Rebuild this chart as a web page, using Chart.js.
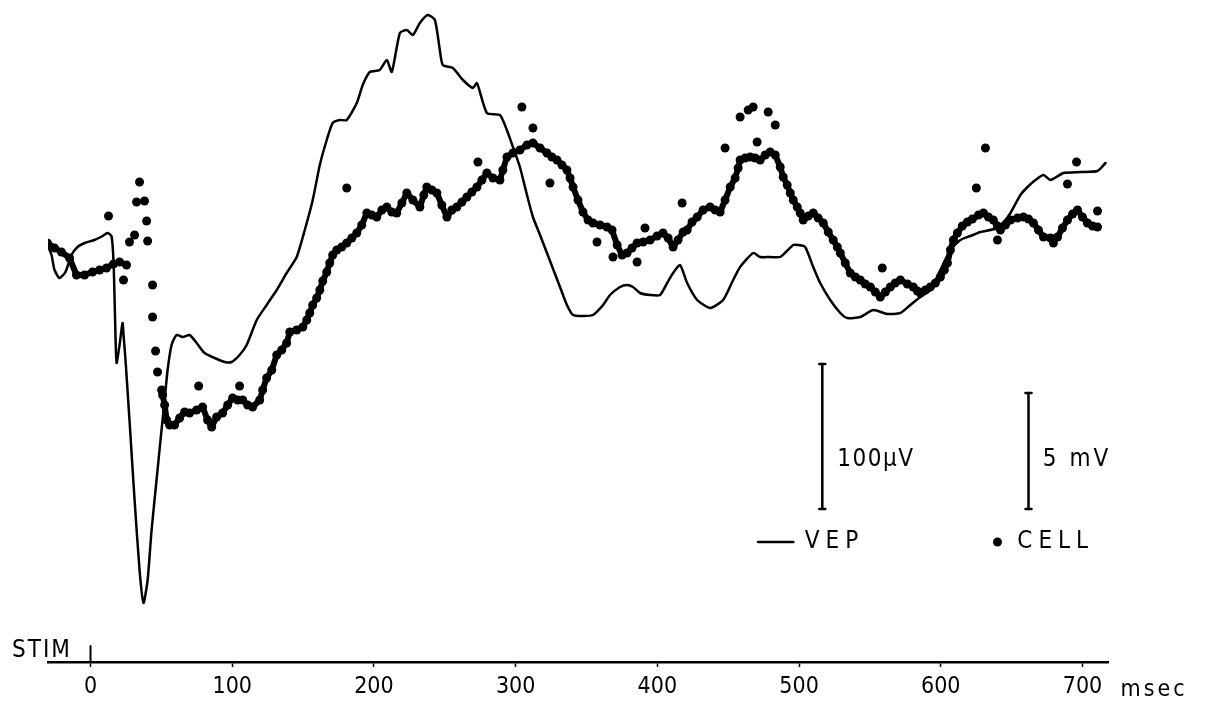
<!DOCTYPE html>
<html>
<head>
<meta charset="utf-8">
<script src="https://cdn.jsdelivr.net/npm/chart.js@4"></script>
<style>
  html, body { margin: 0; padding: 0; background: #fff; }
  #wrap { width: 1229px; height: 708px; }
</style>
</head>
<body>
<div id="wrap"><canvas id="vepChart" width="1229" height="708"></canvas></div>
<script>
// time in msec after the stimulus, amplitude in plot units (height above the time axis)
const vepTime = [-30.4, -27.5, -25.4, -21.9, -17.7, -13.4, -9.2, -4.2, 2.8, 8.5, 12.0, 14.8, 16.2, 17.0, 17.7, 18.4,
  20.5, 22.6, 23.3, 24.7, 27.5, 31.1, 34.6, 37.4, 40.3, 43.1, 46.6, 49.4, 52.3, 54.4, 57.2, 60.7, 65.0, 69.9, 74.9,
  80.5, 87.6, 94.7, 99.6, 105.2, 110.2, 117.3, 124.3, 131.4, 138.4, 145.5, 151.2, 156.8, 161.8, 166.7, 170.9, 175.9,
  180.8, 187.9, 192.1, 197.1, 204.1, 209.1, 212.6, 218.3, 223.2, 227.5, 232.4, 238.0, 243.0, 246.5, 248.6, 255.7,
  262.8, 269.8, 272.7, 279.7, 288.9, 293.8, 298.1, 303.0, 308.0, 312.2, 317.2, 322.1, 331.3, 336.2, 340.5, 347.5,
  354.6, 361.7, 366.6, 373.7, 378.6, 382.8, 387.8, 394.9, 401.9, 406.9, 411.1, 416.0, 421.0, 428.1, 437.2, 446.4,
  453.5, 458.4, 467.6, 472.6, 479.6, 486.7, 495.9, 499.4, 504.3, 510.0, 514.9, 522.0, 529.1, 534.0, 543.2, 552.4,
  562.3, 571.4, 578.5, 585.6, 592.6, 599.7, 606.8, 613.8, 620.9, 628.0, 640.0, 645.6, 649.2, 656.2, 661.2, 666.8,
  672.5, 677.4, 686.6, 698.6, 710.6, 716.2];
const vepAmp = [417, 407, 392, 384, 390, 407, 415, 419, 422, 426, 429, 426, 402, 362, 322, 299,
  317, 339, 327, 302, 242, 162, 92, 59, 82, 132, 182, 222, 262, 292, 317, 327, 325, 327, 319,
  309, 304, 300, 300, 307, 317, 342, 357, 372, 389, 405, 432, 462, 497, 522, 539, 542,
  542, 559, 577, 590, 592, 602, 590, 629, 632, 627, 639, 647, 642, 612, 597, 594,
  582, 574, 579, 549, 547, 532, 515, 495, 467, 445, 427, 409, 375, 357, 347, 346,
  347, 357, 367, 375, 377, 375, 369, 367, 367, 379, 389, 397, 379, 362, 354, 362,
  382, 395, 409, 405, 405, 405, 417, 417, 415, 395, 379, 362, 349, 344, 345, 352,
  348, 349, 357, 365, 372, 392, 412, 422, 426, 430, 434, 442, 449, 467, 475, 482,
  487, 482, 489, 490, 491, 499];

// intracellular record, null marks a break in the trace
const cellTime = [-30.4, -25.4, -20.5, -14.8, -9.9, -4.2, 1.4, 6.4, 11.3, 16.2, 20.5, 25.4, 30,
  50.9, 52.3, 53.7, 55.8, 59.3, 62.9, 66.4, 69.9, 74.9, 79.1, 82.6, 85.5, 89.0, 93.2, 96.8, 100.3, 103.8, 107.4,
  110.9, 114.4, 119.4, 121.5, 124.3, 127.9, 131.4, 134.9, 138.4, 140.6, 145.5, 149.8, 152.6, 154.7, 156.8, 159.6,
  161.8, 163.9, 166.7, 168.8, 170.9, 173.8, 177.3, 180.8, 184.4, 187.9, 191.4, 195.0, 198.5, 202.0, 205.6, 209.1,
  212.6, 216.1, 219.7, 223.2, 227.5, 232.4, 235.2, 237.3, 240.9, 244.4, 247.9, 251.5, 255.0, 258.5, 262.1, 265.6,
  269.1, 272.7, 276.2, 279.7, 284.0, 288.9, 291.0, 293.9, 298.1, 303.0, 308.0, 312.2, 317.2, 322.1, 325.6, 329.2,
  332.7, 336.2, 338.4, 340.5, 344.0, 347.5, 351.1, 354.6, 359.5, 364.5, 368.0, 371.6, 375.1, 378.6, 382.1, 385.7,
  389.9, 394.9, 399.8, 404.0, 407.6, 411.1, 414.6, 418.2, 421.0, 424.5, 428.1, 432.3, 437.2, 440.8, 444.3, 447.8,
  451.4, 454.9, 457.0, 458.4, 462.0, 465.5, 469.0, 472.6, 476.1, 479.6, 483.2, 486.7, 488.8, 491.6, 493.8, 495.9,
  498.7, 500.8, 502.9, 506.5, 510.0, 513.5, 517.1, 520.6, 524.1, 527.0, 529.1, 532.6, 536.1, 539.7, 543.2, 546.7,
  550.3, 553.8, 557.3, 560.9, 564.4, 567.9, 571.5, 576.4, 580.6, 583.5, 585.6, 589.1, 592.6, 596.2, 599.7, 602.5,
  604.7, 606.8, 608.9, 611.7, 615.2, 618.8, 622.3, 626.6, 630.1, 633.6, 637.1, 640.0, 642.1, 645.6, 649.2, 654.1,
  658.3, 661.9, 665.4, 668.9, 672.5, 677.4, 682.4, 685.9, 689.4, 693.0, 696.5, 700.0, 703.5, 707.1, 710.6];
const cellAmp = [419, 414, 410, 404, 387, 387, 390, 392, 394, 398, 400, 397, null,
  267, 257, 242, 237, 237, 244, 250, 249, 252, 255, 242, 235, 245, 249, 257, 264, 262, 262,
  257, 255, 262, 272, 284, 292, 307, 312, 319, 330, 332, 335, 342, 349, 357, 364,
  372, 381, 390, 399, 407, 412, 415, 419, 424, 429, 437, 449, 447, 445, 452, 455,
  450, 449, 459, 469, 462, 455, 467, 475, 472, 469, 457, 445, 452, 455, 460, 465,
  470, 475, 482, 489, 484, 482, 492, 505, 509, 512, 517, 519, 514, 509, 505, 502,
  497, 492, 484, 475, 462, 450, 442, 439, 437, 435, 432, 417, 407, 409, 414, 419,
  420, 422, 426, 429, 424, 415, 422, 430, 432, 440, 445, 452, 455, 452, 450, 462,
  475, 484, 494, 502, 504, 505, 504, 502, 507, 510, 507, 495, 485, 477, 469, 462,
  455, 449, 442, 446, 449, 444, 439, 430, 422, 415, 409, 399, 389, 385, 382, 378,
  375, 370, 365, 370, 375, 379, 382, 378, 375, 371, 369, 372, 375, 379, 385, 392,
  399, 412, 422, 429, 436, 440, 443, 447, 449, 445, 442, 436, 432, 437, 442, 444,
  445, 443, 439, 432, 425, 424, 425, 434, 442, 448, 452, 445, 439, 436, 435];

// single scattered cell samples away from the main trace
const cellSpotTime = [12.7, 34.6, 32.5, 38.1, 39.6, 27.5, 31.1, 40.3, 23.3, 43.8, 43.8, 45.9, 47.3, 50.2, 76.3,
  105.2, 180.8, 273.4, 304.4, 312.2, 324.2, 357.4, 368.7, 385.7, 391.3, 417.5, 447.8, 458.4, 464.1, 467.6, 478.2,
  483.2, 470.4, 558.7, 631.5, 625.1, 695.8, 689.4, 710.6, 640.0, 679.5];
const cellSpotAmp = [446, 480, 460, 461, 441, 420, 427, 421, 382, 377, 345, 311, 290, 272, 276,
  276, 474, 500, 555, 534, 479, 420, 405, 400, 434, 459, 514, 545, 552, 555, 550,
  537, 520, 394, 514, 474, 500, 478, 451, 422, 419];

const tickValues = [0, 100, 200, 300, 400, 500, 600, 700];

const FONT = '"DejaVu Sans Condensed", "DejaVu Sans", sans-serif';

const toPoints = (xs, ys) => xs.map((t, i) => ({ x: t, y: ys[i] }));

// calibration bars, labels, STIM marker
const extras = {
  id: 'extras',
  afterDraw(chart) {
    const { ctx, scales: { x, y } } = chart;
    ctx.save();
    ctx.strokeStyle = '#000';
    ctx.fillStyle = '#000';
    ctx.lineCap = 'round';

    const bar = (t, lo, hi) => {
      const px = x.getPixelForValue(t);
      const top = y.getPixelForValue(hi), bot = y.getPixelForValue(lo);
      ctx.lineWidth = 2.5;
      ctx.beginPath();
      ctx.moveTo(px, top); ctx.lineTo(px, bot);
      ctx.moveTo(px - 3, top); ctx.lineTo(px + 3, top);
      ctx.moveTo(px - 3, bot); ctx.lineTo(px + 3, bot);
      ctx.stroke();
    };
    bar(516.4, 153, 298);
    bar(661.9, 153, 269);

    ctx.font = '24px ' + FONT;
    ctx.textBaseline = 'middle';
    ctx.letterSpacing = '1.5px';
    ctx.fillText('100\u00b5V', x.getPixelForValue(527), y.getPixelForValue(202));
    ctx.letterSpacing = '3px';
    ctx.fillText('5 mV', x.getPixelForValue(672), y.getPixelForValue(202));

    // legend
    ctx.letterSpacing = '6px';
    ctx.lineWidth = 2.5;
    const ly = y.getPixelForValue(120);
    ctx.beginPath();
    ctx.moveTo(x.getPixelForValue(471), ly);
    ctx.lineTo(x.getPixelForValue(496), ly);
    ctx.stroke();
    ctx.fillText('VEP', x.getPixelForValue(504), ly);
    ctx.beginPath();
    ctx.arc(x.getPixelForValue(640), ly, 4.5, 0, Math.PI * 2);
    ctx.fill();
    ctx.fillText('CELL', x.getPixelForValue(654), ly);

    // stimulus marker
    const sx = x.getPixelForValue(0);
    const base = y.getPixelForValue(0);
    ctx.lineWidth = 2;
    ctx.beginPath();
    ctx.moveTo(sx, base); ctx.lineTo(sx, base - 16);
    ctx.stroke();
    ctx.letterSpacing = '2px';
    ctx.textBaseline = 'alphabetic';
    ctx.fillText('STIM', 12, base - 5);

    // unit label after the last tick
    ctx.font = '23px ' + FONT;
    ctx.letterSpacing = '3px';
    ctx.textBaseline = 'middle';
    ctx.fillText('msec', x.getPixelForValue(700) + 38, base + 28);
    ctx.restore();
  }
};

new Chart(document.getElementById('vepChart'), {
  type: 'scatter',
  data: {
    datasets: [
      {
        label: 'VEP',
        data: toPoints(vepTime, vepAmp),
        showLine: true,
        borderColor: '#000',
        borderWidth: 2.5,
        borderJoinStyle: 'round',
        borderCapStyle: 'round',
        pointRadius: 0,
        tension: 0.2,
      },
      {
        label: 'CELL',
        data: toPoints(cellTime, cellAmp),
        showLine: true,
        spanGaps: false,
        borderColor: '#000',
        backgroundColor: '#000',
        borderWidth: 6,
        borderJoinStyle: 'round',
        borderCapStyle: 'round',
        pointRadius: 4.5,
        pointBorderWidth: 0,
        tension: 0,
      },
      {
        label: 'CELL spots',
        data: toPoints(cellSpotTime, cellSpotAmp),
        showLine: false,
        backgroundColor: '#000',
        pointRadius: 4.5,
        pointBorderWidth: 0,
      },
    ]
  },
  options: {
    responsive: false,
    animation: false,
    events: [],
    layout: { padding: { left: 48, right: 121, top: 12, bottom: 0 } },
    plugins: {
      legend: { display: false },
      tooltip: { enabled: false }
    },
    scales: {
      x: {
        type: 'linear',
        min: -30,
        max: 718,
        afterBuildTicks: (axis) => { axis.ticks = tickValues.map(v => ({ value: v })); },
        afterFit: (axis) => { axis.height = 46; },
        border: { display: true, color: '#000', width: 2.5 },
        grid: { drawOnChartArea: false, tickLength: 5, tickColor: '#000', tickWidth: 1.5 },
        ticks: {
          color: '#000',
          padding: 6,
          font: { family: FONT, size: 23 },
          callback: (v) => String(v)
        }
      },
      y: {
        display: false,
        min: 0,
        max: 650
      }
    }
  },
  plugins: [extras]
});
</script>
</body>
</html>
